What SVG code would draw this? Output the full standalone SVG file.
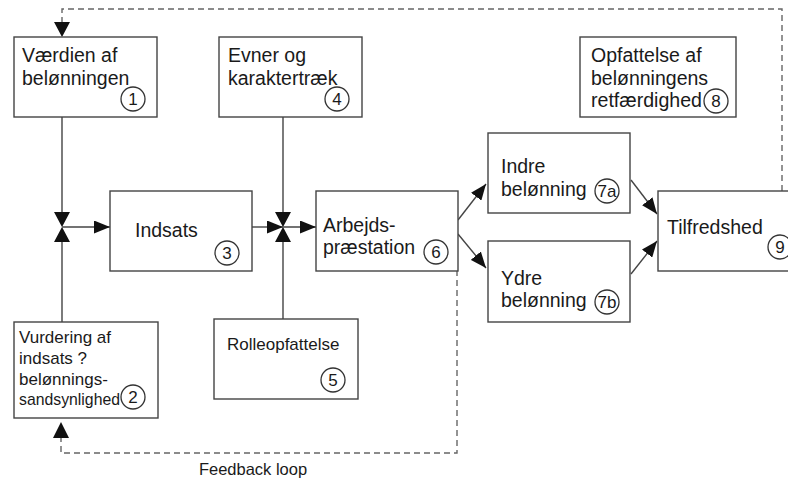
<svg xmlns="http://www.w3.org/2000/svg" width="788" height="482" viewBox="0 0 788 482">
  <style>
    .box { fill: #fff; stroke: #444; stroke-width: 1.4; }
    .lbl { font-family: "Liberation Sans", Arial, sans-serif; font-size: 19.5px; fill: #1a1a1a; }
    .sm { font-size: 17px; }
    .fb { font-size: 16.5px; }
    .num { font-family: "Liberation Sans", Arial, sans-serif; font-size: 17px; fill: #1a1a1a; text-anchor: middle; }
    .ring { fill: #fff; stroke: #333; stroke-width: 1.3; }
    .wire { fill: none; stroke: #444; stroke-width: 1.4; }
    .dash { fill: none; stroke: #666; stroke-width: 1.4; stroke-dasharray: 6 4; }
    .head { fill: #111; }
  </style>
  <defs>
    <marker id="arr" markerUnits="userSpaceOnUse" markerWidth="16" markerHeight="13" refX="16" refY="6.5" orient="auto">
      <path d="M0,0 L16,6.5 L0,13 z" class="head"/>
    </marker>
  </defs>

  <!-- connectors -->
  <g id="connectors">
    <!-- value of reward / probability into junction A -->
    <line class="wire" x1="62" y1="117" x2="62" y2="212"/>
    <line class="wire" x1="62" y1="241" x2="62" y2="322"/>
    <polygon class="head" points="54,212 70,212 62,227"/>
    <polygon class="head" points="54,242 70,242 62,227"/>
    <line class="wire" x1="62" y1="227" x2="110" y2="227" marker-end="url(#arr)"/>

    <!-- effort, abilities, role perception into junction B -->
    <line class="wire" x1="283" y1="117" x2="283" y2="212"/>
    <line class="wire" x1="283" y1="241" x2="283" y2="319"/>
    <line class="wire" x1="252" y1="227" x2="283" y2="227" marker-end="url(#arr)"/>
    <polygon class="head" points="275,212 291,212 283,227"/>
    <polygon class="head" points="275,242 291,242 283,227"/>
    <line class="wire" x1="283" y1="227" x2="316" y2="227" marker-end="url(#arr)"/>

    <!-- performance to rewards -->
    <line class="wire" x1="458" y1="220" x2="486" y2="184" marker-end="url(#arr)"/>
    <line class="wire" x1="458" y1="234" x2="486" y2="268" marker-end="url(#arr)"/>

    <!-- rewards to satisfaction -->
    <line class="wire" x1="631" y1="180" x2="657" y2="214" marker-end="url(#arr)"/>
    <line class="wire" x1="631" y1="274" x2="657" y2="241" marker-end="url(#arr)"/>

    <!-- feedback loops -->
    <path class="dash" d="M782,191 V9 H62 V24"/>
    <polygon class="head" points="54,22 70,22 62,37"/>
    <path class="dash" d="M457,270 V453 H61 V438"/>
    <polygon class="head" points="53,438 69,438 61,422"/>
    <text class="lbl fb" x="253" y="475" text-anchor="middle">Feedback loop</text>
  </g>

  <g id="n1">
    <rect class="box" x="14" y="37" width="143" height="80"/>
    <text class="lbl" x="22" y="62">Værdien af</text>
    <text class="lbl" x="22" y="85">belønningen</text>
    <circle class="ring" cx="133" cy="99" r="12"/>
    <text class="num" x="133" y="105">1</text>
  </g>

  <g id="n4">
    <rect class="box" x="219" y="37" width="143" height="80"/>
    <text class="lbl" x="228" y="62">Evner og</text>
    <text class="lbl" x="228" y="85">karaktertræk</text>
    <circle class="ring" cx="337" cy="99" r="12"/>
    <text class="num" x="337" y="105">4</text>
  </g>

  <g id="n8">
    <rect class="box" x="580" y="37" width="156" height="80"/>
    <text class="lbl" x="591" y="62">Opfattelse af</text>
    <text class="lbl" x="591" y="85">belønningens</text>
    <text class="lbl" x="591" y="107" textLength="111" lengthAdjust="spacingAndGlyphs">retfærdighed</text>
    <circle class="ring" cx="716" cy="101" r="12"/>
    <text class="num" x="716" y="107">8</text>
  </g>

  <g id="n3">
    <rect class="box" x="110" y="191" width="142" height="80"/>
    <text class="lbl" x="135" y="237">Indsats</text>
    <circle class="ring" cx="227" cy="253" r="12"/>
    <text class="num" x="227" y="259">3</text>
  </g>

  <g id="n6">
    <rect class="box" x="316" y="191" width="142" height="80"/>
    <text class="lbl" x="323" y="232">Arbejds-</text>
    <text class="lbl" x="323" y="254">præstation</text>
    <circle class="ring" cx="436" cy="252" r="12"/>
    <text class="num" x="436" y="258">6</text>
  </g>

  <g id="n7a">
    <rect class="box" x="488" y="133" width="142" height="80"/>
    <text class="lbl" x="501" y="173">Indre</text>
    <text class="lbl" x="501" y="196">belønning</text>
    <circle class="ring" cx="607" cy="191" r="12"/>
    <text class="num" x="607" y="197">7a</text>
  </g>

  <g id="n7b">
    <rect class="box" x="488" y="241" width="142" height="81"/>
    <text class="lbl" x="501" y="285">Ydre</text>
    <text class="lbl" x="501" y="307">belønning</text>
    <circle class="ring" cx="607" cy="302" r="12"/>
    <text class="num" x="607" y="308">7b</text>
  </g>

  <g id="n9">
    <rect class="box" x="658" y="191" width="150" height="80"/>
    <text class="lbl" x="667" y="234">Tilfredshed</text>
    <circle class="ring" cx="780" cy="247" r="12"/>
    <text class="num" x="780" y="253">9</text>
  </g>

  <g id="n2">
    <rect class="box" x="14" y="322" width="144" height="96"/>
    <text class="lbl sm" x="19" y="343">Vurdering af</text>
    <text class="lbl sm" x="19" y="364">indsats ?</text>
    <text class="lbl sm" x="19" y="385">belønnings-</text>
    <text class="lbl sm" x="19" y="405" textLength="101" lengthAdjust="spacingAndGlyphs">sandsynlighed</text>
    <circle class="ring" cx="133" cy="397" r="12"/>
    <text class="num" x="133" y="403">2</text>
  </g>

  <g id="n5">
    <rect class="box" x="214" y="319" width="144" height="80"/>
    <text class="lbl sm" x="227" y="350">Rolleopfattelse</text>
    <circle class="ring" cx="333" cy="380" r="12"/>
    <text class="num" x="333" y="386">5</text>
  </g>
</svg>
